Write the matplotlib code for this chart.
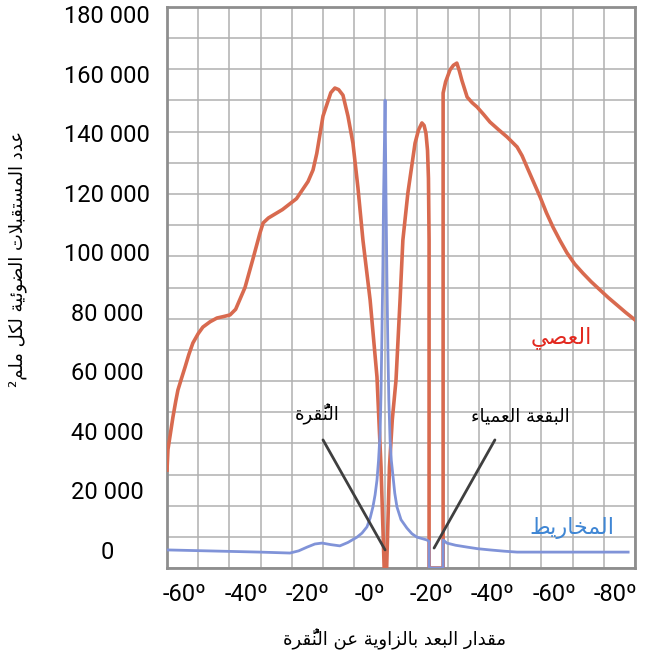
import matplotlib
matplotlib.use("Agg")
import matplotlib.pyplot as plt
import numpy as np

# rods (red): angle from fovea in degrees, receptors per mm^2
rod_deg = [-70.0, -69.7, -68.1, -67.2, -66.5, -65.3, -64.2, -63.0, -61.7, -60.0,
           -58.5, -56.2, -54.0, -51.8, -49.8, -48.0, -45.0, -42.5, -40.2, -39.2,
           -37.5, -33.0, -28.5, -24.8, -23.2, -22.0, -20.0, -17.5, -16.2, -15.0,
           -13.6, -12.0, -10.4, -8.8, -7.2, -4.9, -2.7, -1.4, -0.4,
           0.4, 1.3, 2.2, 3.4, 4.7, 5.6, 7.2, 9.5, 10.6, 11.7, 12.4, 13.0, 13.5,
           13.8, 14.0, 14.0, 14.0, 18.5, 18.5, 18.5, 19.3, 20.7, 21.8, 22.9, 23.7,
           24.5, 26.2, 27.8, 29.4, 31.5, 33.5, 36.3, 39.0, 42.2, 43.8, 45.4, 47.5,
           49.6, 51.6, 53.7, 56.0, 58.2, 60.7, 63.3, 66.0, 68.8, 71.5, 74.2, 77.0, 80.0]
rod_density = [31400, 38000, 48400, 53500, 57100, 61000, 64500, 68500, 72200, 75200,
               77300, 79000, 80200, 80700, 81200, 83000, 90000, 99000, 107500, 110700,
               112300, 115000, 118500, 124000, 127700, 133000, 145000, 152500, 154000, 153500,
               151700, 145000, 136300, 122000, 105200, 86000, 61300, 32400, 0,
               0, 32400, 47500, 60300, 86000, 105200, 120300, 136300, 140500, 142800, 142000, 139500, 134000,
               125000, 105200, 53900, 0, 0, 105200, 152400, 156000, 159800, 161300, 162000, 159500,
               156500, 151100, 149300, 147900, 145500, 143100, 140600, 138300, 135100, 132300, 128600, 123800,
               119000, 114000, 109400, 105000, 101100, 97500, 94600, 91800, 89200, 86700, 84400, 82000, 79600]

# cones (blue)
cone_deg = [-70.0, -40.2, -30.6, -27.8, -25.1, -22.6, -20.3, -17.5, -14.6, -12.0,
            -9.1, -7.5, -5.9, -4.9, -4.0, -3.3, -2.7, -2.2, -1.7, -1.4, -1.1, -0.8,
            -0.6, -0.1, 0.2, 0.5, 0.8, 1.1, 1.5, 1.9, 2.4, 3.0, 3.7, 5.0, 6.9, 8.5,
            10.1, 13.3, 14.0, 14.0, 18.5, 18.5, 19.7, 22.5, 26.2, 29.5, 33.5, 38.0,
            42.2, 77.8]
cone_density = [5800, 5100, 4800, 5500, 6700, 7700, 8000, 7500, 7100, 8200,
                9900, 11200, 13200, 16000, 19600, 23500, 28200, 34500, 43300, 56000, 76300, 97000,
                118000, 150100, 118000, 92000, 70000, 54000, 41000, 34500, 29800, 24000, 19600, 15500, 12800, 11000,
                9900, 9000, 8500, 0, 0, 9000, 8000, 7300, 6700, 6200, 5800, 5400,
                5100, 5100]

y_tick_labels = ["0", "20 000", "40 000", "60 000", "80 000", "100 000",
                 "120 000", "140 000", "160 000", "180 000"]
x_tick_labels = ["-60º", "-40º", "-20º", "-0º", "-20º", "-40º", "-60º", "-80º"]

y_title = "عدد المستقبلات الضوئية لكل ملم²"
x_title = "مقدار البعد بالزاوية عن النُّقرة"
fovea_label = "النُّقرة"
blind_label = "البقعة العمياء"
rod_label = "العصي"
cone_label = "المخاريط"

# matplotlib has no arabic shaping, so pick presentation forms by hand
# (letter, isolated form, number of forms)
_LETTERS = [
    ("ء", 0xFE80, 1), ("آ", 0xFE81, 2), ("أ", 0xFE83, 2), ("ؤ", 0xFE85, 2),
    ("إ", 0xFE87, 2), ("ئ", 0xFE89, 4), ("ا", 0xFE8D, 2), ("ب", 0xFE8F, 4),
    ("ة", 0xFE93, 2), ("ت", 0xFE95, 4), ("ث", 0xFE99, 4), ("ج", 0xFE9D, 4),
    ("ح", 0xFEA1, 4), ("خ", 0xFEA5, 4), ("د", 0xFEA9, 2), ("ذ", 0xFEAB, 2),
    ("ر", 0xFEAD, 2), ("ز", 0xFEAF, 2), ("س", 0xFEB1, 4), ("ش", 0xFEB5, 4),
    ("ص", 0xFEB9, 4), ("ض", 0xFEBD, 4), ("ط", 0xFEC1, 4), ("ظ", 0xFEC5, 4),
    ("ع", 0xFEC9, 4), ("غ", 0xFECD, 4), ("ف", 0xFED1, 4), ("ق", 0xFED5, 4),
    ("ك", 0xFED9, 4), ("ل", 0xFEDD, 4), ("م", 0xFEE1, 4), ("ن", 0xFEE5, 4),
    ("ه", 0xFEE9, 4), ("و", 0xFEED, 2), ("ى", 0xFEEF, 2), ("ي", 0xFEF1, 4),
]
FORMS = {c: (s, n) for c, s, n in _LETTERS}
LAM_ALEF = {"آ": 0xFEF5, "أ": 0xFEF7, "إ": 0xFEF9, "ا": 0xFEFB}


def shape_ar(text):
    clusters = []
    for ch in text:
        if 0x064B <= ord(ch) <= 0x0652 and clusters:
            clusters[-1][1] += ch
        else:
            clusters.append([ch, ""])
    merged = []
    i = 0
    while i < len(clusters):
        b, m = clusters[i]
        if b == "ل" and i + 1 < len(clusters) and clusters[i + 1][0] in LAM_ALEF:
            merged.append(["LA" + clusters[i + 1][0], m + clusters[i + 1][1]])
            i += 2
        else:
            merged.append([b, m])
            i += 1

    def joins_next(b):
        return b in FORMS and FORMS[b][1] == 4

    def is_letter(b):
        return b in FORMS or b.startswith("LA")

    out = []
    for i, (b, m) in enumerate(merged):
        prev = merged[i - 1][0] if i > 0 else None
        nxt = merged[i + 1][0] if i + 1 < len(merged) else None
        pj = prev is not None and joins_next(prev)
        if b.startswith("LA"):
            g = chr(LAM_ALEF[b[2]] + (1 if pj else 0))
        elif b in FORMS:
            start, n = FORMS[b]
            nj = n == 4 and nxt is not None and is_letter(nxt)
            if n == 1:
                off = 0
            elif pj and nj:
                off = 3
            elif pj:
                off = 1
            elif nj:
                off = 2
            else:
                off = 0
            g = chr(start + off)
        else:
            g = b
        # marks go first so they land on top of their letter when drawn left to right
        out.append(m + g)
    return "".join(reversed(out))


plt.rcParams["font.family"] = ["Roboto", "DejaVu Sans"]
AR = "DejaVu Sans"

fig = plt.figure(figsize=(6.53, 6.57), dpi=100)
ax = fig.add_axes([167 / 653, 1 - 568 / 657, 468 / 653, 561 / 657])

ax.plot(rod_deg, rod_density, color="#d86a4f", lw=2.6, zorder=3)
ax.plot(cone_deg, cone_density, color="#8093d8", lw=2.0, zorder=4)

ax.set_xlim(-70, 80)
ax.set_ylim(0, 180000)

# grid every 10 degrees / 10 000, labels sit slightly off the grid as in the source
ax.set_xticks(np.arange(-70, 81, 10), minor=True)
ax.set_yticks(np.arange(0, 180001, 10000), minor=True)
ax.grid(which="minor", color="#b0b0b0", lw=1.1)
ax.set_xticks(np.linspace(-64.3, 73.9, 8))
ax.set_xticklabels(x_tick_labels, fontsize=17)
ax.set_yticks(np.linspace(5800, 177700, 10))
ax.set_yticklabels(y_tick_labels, fontsize=17, ha="center")
ax.tick_params(which="both", length=0)
ax.tick_params(axis="y", pad=43)
ax.tick_params(axis="x", pad=11)
ax.set_axisbelow(True)
for s in ax.spines.values():
    s.set_color("#8e8e8e")
    s.set_linewidth(2)

ax.set_xlabel(shape_ar(x_title), family=AR, fontsize=13, va="center")
ax.xaxis.set_label_coords(0.487, -0.128)
ax.set_ylabel(shape_ar(y_title), family=AR, fontsize=13, va="center")
ax.yaxis.set_label_coords(-0.32, 0.55)

line_kw = dict(arrowstyle="-", color="#3f3f3f", lw=2, shrinkA=0, shrinkB=0)
ax.annotate("", xy=(-0.1, 5800), xytext=(-20.0, 41100), arrowprops=line_kw, zorder=5)
ax.annotate("", xy=(15.6, 6400), xytext=(35.1, 41100), arrowprops=line_kw, zorder=5)
ax.text(-21.9, 45900, shape_ar(fovea_label), family=AR, fontsize=13,
        ha="center", va="bottom", zorder=6)
ax.text(43.1, 45900, shape_ar(blind_label), family=AR, fontsize=13,
        ha="center", va="bottom", zorder=6)
ax.text(56.3, 74100, shape_ar(rod_label), family=AR, fontsize=16,
        color="#e2281f", ha="center", va="center", zorder=6)
ax.text(59.8, 12800, shape_ar(cone_label), family=AR, fontsize=16,
        color="#3f86d4", ha="center", va="center", zorder=6)

fig.savefig("out.png", dpi=100, facecolor="white")
